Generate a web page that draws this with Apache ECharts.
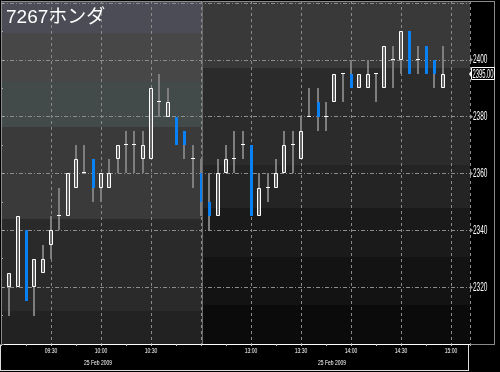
<!DOCTYPE html>
<html><head><meta charset="utf-8">
<script src="https://cdn.jsdelivr.net/npm/echarts@6/dist/echarts.min.js"></script>
<style>html,body{margin:0;padding:0;background:#000}#c{width:500px;height:372px}</style>
</head><body><div id="c"></div>
<script>
const title = '7267ホンダ';
const dateLabel = '25 Feb 2009';
const times = ['09:05','09:10','09:15','09:20','09:25','09:30','09:35','09:40','09:45','09:50','09:55','10:00',
  '10:05','10:10','10:15','10:20','10:25','10:30','10:35','10:40','10:45','10:50','10:55','11:00',
  '12:35','12:40','12:45','12:50','12:55','13:00','13:05','13:10','13:15','13:20','13:25','13:30',
  '13:35','13:40','13:45','13:50','13:55','14:00','14:05','14:10','14:15','14:20','14:25','14:30',
  '14:35','14:40','14:45','14:50','14:55'];
const opens  = [2320,2320,2340,2320,2325,2335,2345,2345,2355,2360,2365,2355,2355,2365,2370,2370,2365,2365,2385,2380,2380,2375,2365,2360,
  2350,2345,2360,2365,2370,2370,2345,2355,2355,2360,2370,2365,2380,2385,2380,2385,2395,2395,2390,2390,2395,2390,2400,2400,2410,2400,2405,2400,2390];
const closes = [2325,2345,2315,2330,2330,2340,2345,2360,2365,2360,2355,2360,2360,2370,2370,2370,2370,2390,2385,2385,2370,2370,2365,2350,
  2345,2360,2365,2365,2370,2345,2355,2355,2360,2370,2370,2375,2380,2380,2380,2395,2395,2390,2395,2395,2395,2405,2400,2410,2395,2400,2395,2395,2395];
const lows   = [2310,2320,2315,2310,2325,2330,2340,2345,2355,2360,2350,2350,2355,2360,2360,2360,2360,2365,2380,2380,2370,2365,2355,2345,
  2340,2345,2360,2360,2365,2345,2345,2350,2355,2360,2360,2365,2380,2375,2375,2385,2385,2390,2390,2390,2385,2390,2390,2395,2395,2395,2395,2390,2390];
const highs  = [2325,2345,2340,2330,2335,2345,2355,2360,2370,2370,2365,2360,2365,2370,2375,2375,2375,2390,2395,2390,2380,2375,2370,2365,
  2360,2365,2370,2375,2375,2370,2360,2360,2365,2375,2375,2380,2390,2390,2385,2395,2395,2400,2395,2400,2395,2405,2405,2410,2410,2405,2405,2400,2405];
const xTickSlots  = [6,12,18,30,36,42,48,54];
const xTickLabels = ['09:30','10:00','10:30','13:00','13:30','14:00','14:30','15:00'];
const yTickValues = [2320,2340,2360,2380,2400];
const lastPrice = 2395;

function slotOf(t){
  const p = t.split(':').map(Number); const m = p[0]*60 + p[1];
  return m <= 660 ? (m - 540) / 5 : 24 + (m - 750) / 5;
}
const candleData = times.map((t,i)=>[slotOf(t), opens[i], closes[i], lows[i], highs[i]]);
const fam = '"Liberation Sans","DejaVu Sans",sans-serif';

const chart = echarts.init(document.getElementById('c'));

function bandRects(){
  const L = [[2,33,'#4c4c56'],[33,82,'#474747'],[82,127,'#424a4a'],[127,219,'#3a3a3a'],[219,311,'#2a2a2a'],[311,344,'#222222']];
  const R = [[1,68,'#393939'],[68,165,'#2b2b2b'],[165,208,'#242424'],[208,257,'#1a1a1a'],[257,305,'#131313'],[305,344,'#0b0b0b']];
  const out = [];
  L.forEach(b=>out.push({type:'rect',z:-100,silent:true,shape:{x:1,y:b[0],width:201,height:b[1]-b[0]},style:{fill:b[2]}}));
  R.forEach(b=>out.push({type:'rect',z:-100,silent:true,shape:{x:202,y:b[0],width:268,height:b[1]-b[0]},style:{fill:b[2]}}));
  return out;
}
function ln(x1,y1,x2,y2,c){return {type:'line',z:50,silent:true,shape:{x1,y1,x2,y2},style:{stroke:c,lineWidth:1}};}

chart.setOption({
  backgroundColor:'#000',
  animation:false,
  grid:{left:1,right:30,top:1,bottom:28,containLabel:false},
  xAxis:{
    type:'value', min:0, max:56.28, interval:6,
    axisLine:{show:true,lineStyle:{color:'#ffffff',width:1}},
    axisTick:{show:true,length:2,lineStyle:{color:'#cccccc'}},
    minorTick:{show:true,splitNumber:2,length:2,lineStyle:{color:'#cccccc'}},
    splitLine:{show:true,lineStyle:{color:'#8a8a8a',type:[3,3],width:1}},
    axisLabel:{show:false}
  },
  yAxis:{
    type:'value', position:'right', min:2300, max:2420.7, interval:20,
    axisLine:{show:true,lineStyle:{color:'#909090'}},
    axisTick:{show:true,length:3,lineStyle:{color:'#aaaaaa'}},
    minorTick:{show:true,splitNumber:2,length:2,lineStyle:{color:'#aaaaaa'}},
    splitLine:{show:true,lineStyle:{color:'#8c8c8c',type:[4,2,1,2],width:1}},
    axisLabel:{show:false}
  },
  series:[{
    type:'custom',
    data:candleData,
    encode:{x:0,y:[1,2,3,4]},
    renderItem:function(params,api){
      const x=api.value(0),o=api.value(1),c=api.value(2),l=api.value(3),h=api.value(4);
      const pH=api.coord([x,h]),pL=api.coord([x,l]),pO=api.coord([x,o]),pC=api.coord([x,c]);
      const cx=Math.round(pH[0]);
      const ch=[];
      ch.push({type:'rect',shape:{x:cx-1,y:Math.round(pH[1]),width:2,height:Math.max(1,Math.round(pL[1])-Math.round(pH[1]))},style:{fill:'#7e7e7e'}});
      if(c>o){
        const t=Math.round(pC[1]),b=Math.round(pO[1]);
        ch.push({type:'rect',shape:{x:cx-1.5,y:t+0.5,width:3,height:Math.max(1,b-t-1)},style:{fill:'#666666',stroke:'#ffffff',lineWidth:1}});
      }else if(c<o){
        const t=Math.round(pO[1]),b=Math.round(pC[1]);
        ch.push({type:'rect',shape:{x:cx-1,y:t,width:3,height:b-t},style:{fill:'#0a80f5'}});
      }else{
        ch.push({type:'rect',shape:{x:cx-2,y:Math.round(pO[1])-1,width:4,height:1},style:{fill:'#ffffff'}});
      }
      return {type:'group',children:ch};
    }
  }]
});

// labels placed through the axes' own scales
const gridRight = 470;
const labelEls = [];
yTickValues.forEach(v=>{
  const y = chart.convertToPixel({yAxisIndex:0}, v);
  labelEls.push({type:'polygon',z:55,silent:true,shape:{points:[[gridRight,y-2.5],[gridRight+3,y],[gridRight,y+2.5]]},style:{fill:'#9a9a9a'}});
  labelEls.push({type:'text',z:60,x:gridRight+3,y:y,scaleX:0.5,style:{text:String(v),fill:'#ffffff',font:'13px '+fam,textAlign:'left',textVerticalAlign:'middle'}});
});
xTickSlots.forEach((s,i)=>{
  const x = chart.convertToPixel({xAxisIndex:0}, s);
  labelEls.push({type:'text',z:60,x:x,y:351,scaleX:0.63,style:{text:xTickLabels[i],fill:'#ffffff',font:'8px '+fam,textAlign:'center',textVerticalAlign:'middle'}});
});
const py = chart.convertToPixel({yAxisIndex:0}, lastPrice);
labelEls.push({type:'polygon',z:58,silent:true,shape:{points:[[gridRight+1,py-3],[gridRight-1,py],[gridRight+1,py+3]]},style:{fill:'#ffffff'}});
labelEls.push({type:'rect',z:58,silent:true,shape:{x:gridRight+1.5,y:Math.round(py)-6.5,width:23,height:12},style:{fill:'#000000',stroke:'#ffffff',lineWidth:1}});
labelEls.push({type:'text',z:60,x:gridRight+13,y:Math.round(py),scaleX:0.45,style:{text:lastPrice.toFixed(2),fill:'#ffffff',font:'13px '+fam,textAlign:'center',textVerticalAlign:'middle'}});

chart.setOption({
  graphic:{elements:[].concat(bandRects(),[
    {type:'text',z:60,left:6,top:8,style:{text:title,fill:'#ffffff',font:'19px "Liberation Sans","Noto Sans CJK JP",sans-serif'}},
    {type:'text',z:60,x:98,y:363,scaleX:0.62,style:{text:dateLabel,fill:'#ffffff',font:'8px '+fam,textAlign:'center',textVerticalAlign:'middle'}},
    {type:'text',z:60,x:332,y:363,scaleX:0.62,style:{text:dateLabel,fill:'#ffffff',font:'8px '+fam,textAlign:'center',textVerticalAlign:'middle'}},
    ln(1.5,1,1.5,345,'#8a8a8a'),
    ln(1,1.5,494,1.5,'#8a8a8a'),
    ln(494.5,1,494.5,344,'#8a8a8a'),
    ln(470,344.5,495,344.5,'#8a8a8a'),
    ln(0.5,345,0.5,371,'#dddddd'),
    ln(0,370.5,469,370.5,'#dddddd'),
    ln(468.5,345,468.5,371,'#dddddd'),
    ln(202.5,1,202.5,344,'#6a6a6a')
  ], labelEls)}
});
</script></body></html>
